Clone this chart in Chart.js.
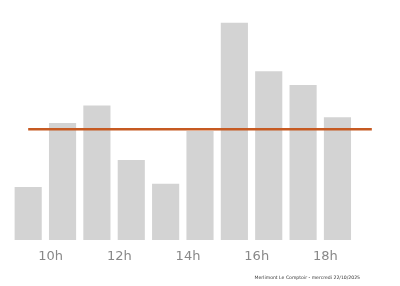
<!DOCTYPE html>
<html>
<head>
<meta charset="utf-8">
<script src="https://cdn.jsdelivr.net/npm/chart.js@4"></script>
<style>
  html, body { margin: 0; padding: 0; background: #fff; }
  #wrap { width: 400px; height: 286px; }
</style>
</head>
<body>
<div id="wrap"><canvas id="hoursChart" width="400" height="286"></canvas></div>
<script>
// heures d'ouverture (la dernière colonne reste vide)
const hours = ['9h', '10h', '11h', '12h', '13h', '14h', '15h', '16h', '17h', '18h', '19h'];
const visits = [5.3, 11.7, 13.45, 8.0, 5.63, 10.9, 21.73, 16.87, 15.5, 12.27, null];
const average = 11.07;
const footnote = 'Merlimont Le Comptoir - mercredi 22/10/2025';

const footnotePlugin = {
    id: 'footnote',
    afterDraw(chart) {
        const ctx = chart.ctx;
        ctx.save();
        ctx.font = '4.6px "DejaVu Sans", sans-serif';
        ctx.fillStyle = '#333';
        ctx.textAlign = 'right';
        ctx.textBaseline = 'middle';
        ctx.fillText(footnote, 360, 278);
        ctx.restore();
    }
};

const ctx = document.getElementById('hoursChart').getContext('2d');

new Chart(ctx, {
    data: {
        labels: hours,
        datasets: [
            {
                type: 'line',
                data: hours.map(() => average),
                borderColor: '#c65a22',
                borderWidth: 2.5,
                pointRadius: 0,
                fill: false,
                order: 0
            },
            {
                type: 'bar',
                data: visits,
                backgroundColor: '#d3d3d3',
                categoryPercentage: 1,
                barPercentage: 0.79,
                order: 1
            }
        ]
    },
    options: {
        responsive: false,
        animation: false,
        layout: { padding: { left: 11, right: 11, top: 0, bottom: 16 } },
        scales: {
            x: {
                grid: { display: false },
                border: { display: false },
                afterFit: (scale) => { scale.height = 30; },
                ticks: {
                    autoSkip: false,
                    maxRotation: 0,
                    padding: 1,
                    labelOffset: -12,
                    color: '#888',
                    font: { family: '"DejaVu Sans", sans-serif', size: 13 },
                    callback: (value, index) => (index % 2 === 1 && index < 10) ? hours[index] : ''
                }
            },
            y: {
                display: false,
                min: 0,
                max: 24
            }
        },
        plugins: {
            legend: { display: false },
            tooltip: { enabled: false }
        }
    },
    plugins: [footnotePlugin]
});
</script>
</body>
</html>
